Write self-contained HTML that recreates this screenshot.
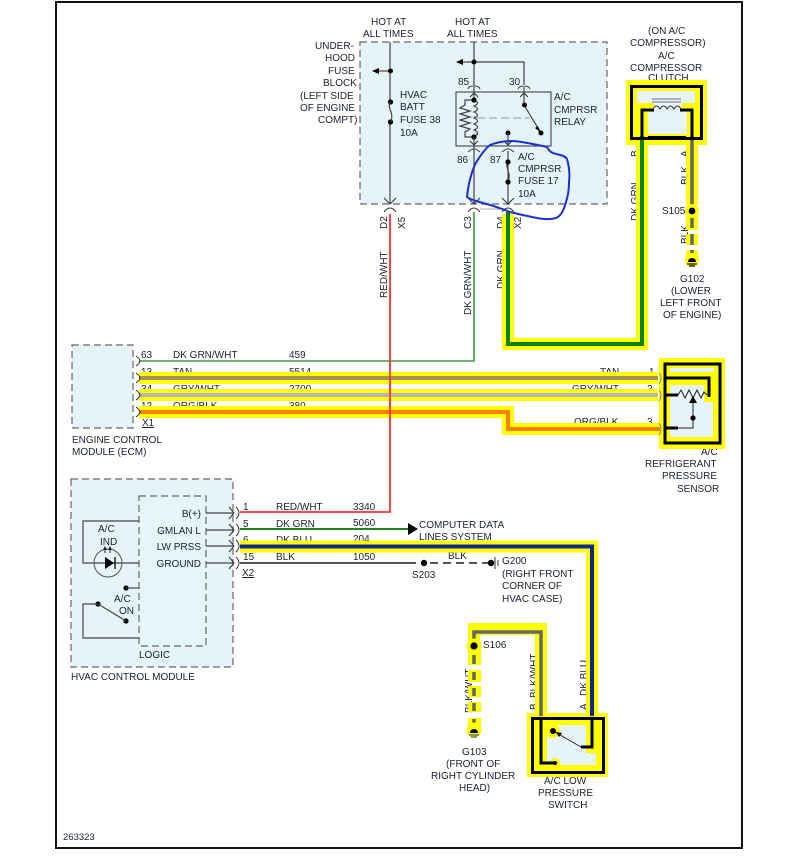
<!DOCTYPE html>
<html><head><meta charset="utf-8"><style>
html,body{margin:0;padding:0;background:#fff}
svg{display:block}
text{font-family:"Liberation Sans",sans-serif;font-size:10px;fill:#1a2230}
.e{text-anchor:end}
.t{fill:none;stroke:#333;stroke-width:1}
.w{fill:none;stroke:#444;stroke-width:1.2}
.y{fill:none;stroke:#ff0;stroke-linejoin:miter}
.k{fill:none;stroke:#000;stroke-width:3}
</style></head><body>
<svg width="799" height="867" viewBox="0 0 799 867" xmlns="http://www.w3.org/2000/svg">
<defs>
<g id="cup"><path class="t" d="M-6 3Q-5 0 -1 0M6 3Q5 0 1 0"/></g>
<g id="cr"><path class="t" d="M-4 -6L1 0L-4 6M3 -6Q6 -3 6 0Q6 3 3 6"/></g>
<g id="ca"><path class="t" d="M-1 -5Q3 -2 3 0Q3 2 -1 5"/></g>
</defs>
<rect x="56" y="2" width="686" height="846" fill="#fff" stroke="#111" stroke-width="2"/>

<!-- blocks -->
<rect x="360" y="42" width="247" height="162" fill="#e6f3fb" stroke="#666" stroke-width="1.2" stroke-dasharray="7 4"/>
<rect x="72" y="345" width="61" height="83" fill="#e6f3fb" stroke="#666" stroke-width="1.2" stroke-dasharray="7 4"/>
<rect x="71" y="479" width="162" height="188" fill="#e6f3fb" stroke="#666" stroke-width="1.2" stroke-dasharray="7 4"/>
<rect x="139" y="496" width="67" height="150" fill="#e6f4fc" stroke="#666" stroke-width="1.2" stroke-dasharray="7 4"/>

<!-- labels under highlights -->
<text x="315" y="49">UNDER-</text><text x="325" y="61">HOOD</text><text x="328" y="74">FUSE</text><text x="323" y="86">BLOCK</text>
<text x="300" y="99">(LEFT SIDE</text><text x="300" y="111">OF ENGINE</text><text x="318" y="123">COMPT)</text>
<text x="371" y="25">HOT AT</text><text x="363" y="37">ALL TIMES</text>
<text x="455" y="25">HOT AT</text><text x="447" y="37">ALL TIMES</text>
<text x="400" y="98">HVAC</text><text x="400" y="110">BATT</text><text x="400" y="123">FUSE 38</text><text x="400" y="136">10A</text>
<text x="458" y="85">85</text><text x="509" y="85">30</text>
<text x="554" y="100">A/C</text><text x="554" y="113">CMPRSR</text><text x="554" y="125">RELAY</text>
<text x="457" y="163">86</text><text x="490" y="163">87</text>
<text x="518" y="160">A/C</text><text x="518" y="172">CMPRSR</text><text x="518" y="184">FUSE 17</text><text x="518" y="197">10A</text>
<text x="648" y="34">(ON A/C</text><text x="630" y="46">COMPRESSOR)</text><text x="658" y="59">A/C</text><text x="630" y="71">COMPRESSOR</text><text x="648" y="81">CLUTCH</text>
<text transform="translate(387 229) rotate(-90)">D2</text>
<text transform="translate(405 229) rotate(-90)">X5</text>
<text transform="translate(471 229) rotate(-90)">C3</text>
<text transform="translate(504 229) rotate(-90)">D4</text>
<text transform="translate(521 229) rotate(-90)">X2</text>
<text transform="translate(387 298) rotate(-90)">RED/WHT</text>
<text transform="translate(471 315) rotate(-90)">DK GRN/WHT</text>
<text transform="translate(504 289) rotate(-90)">DK GRN</text>
<text transform="translate(638 221) rotate(-90)">DK GRN</text>
<text transform="translate(638 157) rotate(-90)">B</text>
<text transform="translate(688 157) rotate(-90)">A</text>
<text transform="translate(688 185) rotate(-90)">BLK</text>
<text transform="translate(688 244) rotate(-90)">BLK</text>
<text x="662" y="214">S105</text>
<text x="680" y="282">G102</text><text x="671" y="294">(LOWER</text><text x="660" y="306">LEFT FRONT</text><text x="663" y="318">OF ENGINE)</text>
<text x="141" y="358">63</text><text x="173" y="358">DK GRN/WHT</text><text x="289" y="358">459</text>
<text x="141" y="375">13</text><text x="173" y="375">TAN</text><text x="289" y="375">5514</text>
<text x="141" y="392">34</text><text x="173" y="392">GRY/WHT</text><text x="289" y="392">2700</text>
<text x="141" y="409">12</text><text x="173" y="409">ORG/BLK</text><text x="289" y="409">380</text>
<text x="142" y="426" text-decoration="underline">X1</text>
<text x="72" y="443">ENGINE CONTROL</text><text x="72" y="455">MODULE (ECM)</text>
<text x="600" y="375">TAN</text><text x="649" y="375">1</text>
<text x="572" y="392">GRY/WHT</text><text x="647" y="392">2</text>
<text x="574" y="425">ORG/BLK</text><text x="647" y="425">3</text>
<text x="701" y="455">A/C</text><text x="645" y="467">REFRIGERANT</text><text x="662" y="479">PRESSURE</text><text x="677" y="492">SENSOR</text>
<text x="201" y="517" class="e">B(+)</text><text x="201" y="534" class="e">GMLAN L</text><text x="201" y="550" class="e">LW PRSS</text><text x="201" y="567" class="e">GROUND</text>
<text x="98" y="532">A/C</text><text x="100" y="545">IND</text>
<text x="114" y="602">A/C</text><text x="119" y="614">ON</text>
<text x="139" y="658">LOGIC</text><text x="71" y="680">HVAC CONTROL MODULE</text>
<text x="243" y="510">1</text><text x="276" y="510">RED/WHT</text><text x="353" y="510">3340</text>
<text x="243" y="527">5</text><text x="276" y="527">DK GRN</text><text x="353" y="526">5060</text>
<text x="243" y="543">6</text><text x="276" y="543">DK BLU</text><text x="353" y="542">204</text>
<text x="243" y="560">15</text><text x="276" y="560">BLK</text><text x="353" y="560">1050</text>
<text x="242" y="576" text-decoration="underline">X2</text>
<text x="419" y="528">COMPUTER DATA</text><text x="419" y="540">LINES SYSTEM</text>
<text x="412" y="578">S203</text><text x="448" y="559">BLK</text>
<text x="502" y="564">G200</text><text x="502" y="577">(RIGHT FRONT</text><text x="502" y="589">CORNER OF</text><text x="502" y="602">HVAC CASE)</text>
<text x="483" y="648">S106</text>
<text transform="translate(472 713) rotate(-90)">BLK/WHT</text>
<text transform="translate(537 710) rotate(-90)">B</text>
<text transform="translate(537 698) rotate(-90)">BLK/WHT</text>
<text transform="translate(587 710) rotate(-90)">A</text>
<text transform="translate(587 696) rotate(-90)">DK BLU</text>
<text x="462" y="755">G103</text><text x="446" y="767">(FRONT OF</text><text x="431" y="779">RIGHT CYLINDER</text><text x="459" y="791">HEAD)</text>
<text x="544" y="784">A/C LOW</text><text x="538" y="796">PRESSURE</text><text x="548" y="808">SWITCH</text>
<text x="63" y="840" style="font-size:9.5px">263323</text>

<!-- plain wires -->
<path d="M139 361H474V212" fill="none" stroke="#3f9a4a" stroke-width="1.6"/>
<path d="M390 214V512H240" fill="none" stroke="#f33" stroke-width="1.8"/>
<path d="M240 529H410" fill="none" stroke="#1a8a1a" stroke-width="2"/>
<path d="M408 523L418 529L408 535Z" fill="#000"/>
<path d="M240 563H416" fill="none" stroke="#555" stroke-width="2"/>
<path d="M430 563H488" fill="none" stroke="#555" stroke-width="2" stroke-dasharray="8 5"/>
<circle cx="424" cy="563" r="3.2" fill="#000"/><circle cx="491" cy="563" r="3.2" fill="#000"/>
<path d="M495 557V569M498 560V566" stroke="#333" stroke-width="1"/>

<!-- yellow highlights -->
<path class="y" stroke-width="12" d="M139 378H658M139 395H658"/>
<path class="y" stroke-width="12" d="M139 412H508V429H660"/>
<path class="y" stroke-width="12" d="M508 214V344H642V140"/>
<path class="y" stroke-width="12" d="M692 140V205M692 212V230M692 234V245M692 250V256"/>
<path class="y" stroke-width="12" d="M240 546.500H592V716"/>
<path class="y" stroke-width="12" d="M541 716V629H474V644"/>
<path class="y" stroke-width="13" d="M474.500 650V665M474.500 670V682M474.500 686V697M474.500 702V712M474.500 718V730"/>
<rect x="626" y="80" width="81" height="65" fill="#ff0"/>
<rect x="659" y="358" width="66" height="91" fill="#ff0"/>
<rect x="527" y="713" width="81" height="64" fill="#ff0"/>

<!-- coloured wires on highlight -->
<path d="M139 378H658" stroke="#a89058" stroke-width="4" fill="none"/>
<path d="M139 395H658" stroke="#b5b5b5" stroke-width="4" fill="none"/>
<path d="M139 412H508V429H660" stroke="#ff7f00" stroke-width="4" fill="none"/>
<path d="M508 212V344H642V136" stroke="#0a7f12" stroke-width="4" fill="none"/>
<path d="M692 136V205" stroke="#666" stroke-width="3.500" fill="none"/>
<path d="M692 216V228M692 234V245M692 250V253" stroke="#666" stroke-width="3.500" fill="none"/>
<path d="M240 546.500H592V716" stroke="#0b2a8c" stroke-width="4" fill="none"/>
<path d="M541 716V632H474V644" stroke="#666" stroke-width="3.500" fill="none"/>
<path d="M474 655V664M474 672V680M474 688V696M474 703V711M474 719V726" stroke="#666" stroke-width="3.500" fill="none"/>

<!-- red over highlights -->
<path d="M390 372V420" stroke="#f33" stroke-width="1.800" fill="none"/>

<!-- S105 / G102 -->
<circle cx="692" cy="211" r="7" fill="#ff0"/><circle cx="692" cy="211" r="3.400" fill="#000"/>
<circle cx="692" cy="260" r="7" fill="#ff0"/>
<path d="M688 262A4 4 0 0 1 696 262Z" fill="#000"/><path d="M687 264H697M689 266H695" stroke="#111" stroke-width="1.200"/>
<!-- S106 / G103 -->
<circle cx="474" cy="646" r="7.500" fill="#ff0"/><circle cx="474" cy="646" r="3.600" fill="#000"/>
<circle cx="474" cy="730" r="7.500" fill="#ff0"/>
<path d="M470 733A4 4 0 0 1 478 733Z" fill="#000"/><path d="M469 735H479M471 737H477" stroke="#555" stroke-width="1.200"/>

<!-- clutch -->
<rect x="637" y="91" width="58" height="12" fill="#e6f3fb"/>
<path d="M648 110H654V103H682V110H687V134H648Z" fill="#e6f3fb"/>
<rect x="631.500" y="86.500" width="70" height="52" class="k"/>
<path class="k" d="M642 139V110H654M680 110H692V139"/>
<path d="M648 137H686" stroke="#000" stroke-width="2"/>
<path d="M652 99H681M652 102H681" stroke="#888" stroke-width="1.300"/>
<path d="M653 109Q656.500 103 660 109Q663.500 103 667 109Q670.500 103 674 109Q677.500 103 681 109" fill="none" stroke="#333" stroke-width="1"/>

<!-- sensor -->
<rect x="670" y="368" width="44" height="4" fill="#e6f3fb"/>
<path d="M670 385H704V402H713V437H670Z" fill="#e6f3fb"/>
<rect x="665" y="364" width="55" height="79" class="k"/>
<path class="k" d="M664 378H709V397"/>
<path class="k" d="M664 395H678M664 428H678"/>
<path d="M678 428H693V400M678 395L681 390L685 398L689 390L693 398L697 390L701 398L704 392L707 395" fill="none" stroke="#222" stroke-width="1"/>
<path d="M689 403L693 396L697 403Z" fill="#000"/>
<circle cx="693" cy="418" r="2.600" fill="#000"/>
<path d="M659 373Q663 378 659 384M659 390Q663 395 659 401M659 423Q663 429 659 435" fill="none" stroke="#888" stroke-width="1"/>

<!-- low pressure switch -->
<path d="M547 725H586V753H596V765H547Z" fill="#e6f3fb"/>
<rect x="532.500" y="718.500" width="71" height="54" class="k"/>
<path class="k" d="M541 718V763H555"/>
<path class="k" d="M592 718V747H581"/>
<circle cx="553" cy="731" r="7" fill="#ff0"/><circle cx="553" cy="731" r="3" fill="#000"/>
<circle cx="555" cy="763" r="5" fill="#ff0"/><path class="k" d="M545 763H555"/><circle cx="555" cy="763" r="2" fill="#000"/>
<path d="M581 747L555 732" stroke="#222" stroke-width="1" fill="none"/>
<path d="M556 732L562 733L559 737Z" fill="#000"/>

<!-- fuse block internals -->
<path class="w" d="M390 42V100M390 124V204"/>
<path class="w" d="M378 71H390"/><path d="M372 71L379 68V74Z" fill="#000"/><circle cx="390.500" cy="71" r="2.500" fill="#000"/>
<circle cx="390.500" cy="102" r="2.600" fill="#000"/><circle cx="390.500" cy="122" r="2.600" fill="#000"/>
<path class="w" d="M390.500 102C386 107 395 113 390.500 122"/>
<path class="w" d="M474 42V86"/><path class="w" d="M462 62H474H524V85"/><path d="M456 62L463 59V65Z" fill="#000"/><circle cx="474" cy="62" r="2.500" fill="#000"/>
<rect x="456" y="92" width="95" height="54" fill="#e4f2fa" stroke="#333" stroke-width="1"/>
<use href="#cup" x="474" y="86"/><use href="#cup" x="524" y="86"/>
<path class="w" d="M474 86V100M524 86V105"/>
<path class="t" d="M470 97L474 93L478 97M520 97L524 93L528 97"/>
<path class="w" d="M474 100Q481 103 474 106Q481 109 474 112Q481 115 474 118Q481 121 474 124Q481 127 474 130Q481 133 474 137"/>
<path class="w" d="M474 100H465V105L460 108L470 111L460 114L470 117L460 120L470 123L460 126L470 129L465 132V137H474"/>
<circle cx="474" cy="100" r="2.600" fill="#000"/><circle cx="474" cy="137" r="2.600" fill="#000"/>
<path d="M477 118H530" stroke="#999" stroke-width="1" stroke-dasharray="8 4"/>
<path class="w" d="M524 105L541 133"/><path d="M541 133L535 128L538 126Z" fill="#000"/>
<circle cx="524.500" cy="105" r="2.500" fill="#000"/><circle cx="541" cy="133" r="2.500" fill="#000"/>
<circle cx="508" cy="133" r="2.500" fill="#000"/>
<path class="w" d="M508 133V146M474 137V204M508 151V204"/>
<path class="t" d="M470 141L474 145L478 141M504 141L508 145L512 141"/>
<path class="t" d="M468 152Q473 148 474 149Q475 148 480 152M502 152Q507 148 508 149Q509 148 514 152"/>
<path class="w" d="M508 162C504 167 512 173 508 182"/>
<circle cx="508" cy="162" r="2.600" fill="#000"/><circle cx="508" cy="182" r="2.600" fill="#000"/>
<path class="t" d="M384 198L390 204L396 198M468 198L474 204L480 198M502 198L508 204L514 198"/>
<path class="t" d="M384 212Q387 208 390 208Q393 208 396 212M468 212Q471 208 474 208Q477 208 480 212M502 212Q505 208 508 208Q511 208 514 212"/>
<path d="M480 209H502" stroke="#aaa" stroke-width="1"/>

<!-- ECM connectors -->
<use href="#ca" x="137" y="361"/><use href="#ca" x="137" y="378"/><use href="#ca" x="137" y="395"/><use href="#ca" x="137" y="412"/>

<!-- HVAC internals -->
<path class="w" d="M206 513H233M206 530H233M206 546H233M206 563H233"/>
<use href="#cr" x="233" y="513"/><use href="#cr" x="233" y="530"/><use href="#cr" x="233" y="546"/><use href="#cr" x="233" y="563"/>
<path class="w" d="M139 521H83V563H139"/>
<circle cx="108" cy="563" r="14" fill="none" stroke="#555" stroke-width="1"/>
<path d="M105 557L105 569L114 563Z" fill="#000"/><path d="M115 557V569" stroke="#000" stroke-width="1.300"/>
<path d="M105 553V548M110 553V548" stroke="#222" stroke-width="1"/><path d="M103 550L105 546L107 550ZM108 550L110 546L112 550Z" fill="#222"/>
<circle cx="126" cy="588" r="2.600" fill="#000"/><path class="w" d="M126 588H139"/>
<circle cx="98" cy="604" r="2.600" fill="#000"/><circle cx="126" cy="621" r="2.600" fill="#000"/>
<path class="w" d="M98 604L126 621"/>
<path class="w" d="M98 604H83V638H139"/>

<!-- hand-drawn blue circle -->
<path d="M490 145C500 141 510 140 522 142C532 144 540 145 547 147C549 150 550 152 553 153C558 155 565 155 567 159C569 166 570 174 569 182C569 190 568 196 566 202C564 210 561 216 556 218C549 220 543 219 537 218C527 216 518 214 510 212C500 208 491 205 483 203C477 201 471 200 467 197C468 188 469 182 471 176C473 168 476 162 479 158C483 152 486 148 490 145Z" fill="none" stroke="#1b2fd6" stroke-width="2"/>
</svg>
</body></html>
